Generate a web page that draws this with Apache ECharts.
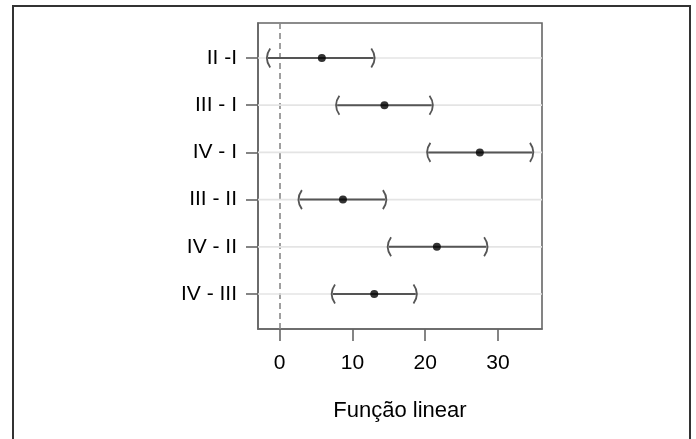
<!DOCTYPE html>
<html>
<head>
<meta charset="utf-8">
<script src="https://cdn.jsdelivr.net/npm/echarts@6/dist/echarts.min.js"></script>
<style>
  html, body { margin: 0; padding: 0; background: #fff; }
  #chart { width: 696px; height: 439px; }
</style>
</head>
<body>
<div id="chart"></div>
<script>
// comparisons, top to bottom
const comparisons = ['II -I', 'III - I', 'IV - I', 'III - II', 'IV - II', 'IV - III'];
const estimates = [5.8, 14.4, 27.5, 8.7, 21.6, 13.0];
const lowerCI = [-1.6, 7.9, 20.4, 2.75, 15.0, 7.3];
const upperCI = [12.9, 20.9, 34.7, 14.5, 28.4, 18.7];
const xTicks = [0, 10, 20, 30];
const rowPos = comparisons.map((c, i) => i + 1);

const font = "'Liberation Sans', Arial, sans-serif";
const myChart = echarts.init(document.getElementById('chart'));

const intervalData = rowPos.map((y, i) => [y, lowerCI[i], upperCI[i]]);
const pointData = rowPos.map((y, i) => [estimates[i], y]);

const renderInterval = (params, api) => {
  const y = api.value(0);
  const lo = api.coord([api.value(1), y]);
  const hi = api.coord([api.value(2), y]);
  const cs = params.coordSys;
  const h = 9.5;
  const w = 4.5;
  return {
    type: 'group',
    children: [
      {
        type: 'line',
        shape: { x1: cs.x, y1: lo[1], x2: cs.x + cs.width, y2: lo[1] },
        style: { stroke: '#e4e4e4', lineWidth: 1.6 }
      },
      {
        type: 'line',
        shape: { x1: lo[0], y1: lo[1], x2: hi[0], y2: hi[1] },
        style: { stroke: '#555', lineWidth: 2 }
      },
      {
        type: 'bezierCurve',
        shape: { x1: lo[0] + w / 2, y1: lo[1] - h, cpx1: lo[0] - w, cpy1: lo[1], x2: lo[0] + w / 2, y2: lo[1] + h },
        style: { stroke: '#555', lineWidth: 1.8, fill: 'none' }
      },
      {
        type: 'bezierCurve',
        shape: { x1: hi[0] - w / 2, y1: hi[1] - h, cpx1: hi[0] + w, cpy1: hi[1], x2: hi[0] - w / 2, y2: hi[1] + h },
        style: { stroke: '#555', lineWidth: 1.8, fill: 'none' }
      }
    ]
  };
};

option = {
  backgroundColor: '#fff',
  animation: false,
  textStyle: { fontFamily: font },
  graphic: [
    {
      type: 'rect',
      shape: { x: 13, y: 6, width: 677, height: 470 },
      style: { fill: 'none', stroke: '#333', lineWidth: 2 },
      silent: true
    }
  ],
  grid: {
    left: 258,
    right: 154,
    top: 23,
    bottom: 110,
    show: true,
    borderColor: '#666',
    borderWidth: 1.6,
    backgroundColor: 'transparent'
  },
  xAxis: {
    type: 'value',
    min: -2.97,
    max: 36.04,
    name: 'Função linear',
    nameLocation: 'middle',
    nameGap: 71,
    nameTextStyle: { fontSize: 22, color: '#000', fontFamily: font },
    axisLine: { show: true, onZero: false, lineStyle: { color: '#666', width: 1.6 } },
    splitLine: { show: false },
    axisTick: {
      show: true,
      inside: false,
      length: 12,
      customValues: xTicks,
      lineStyle: { color: '#666', width: 1.6 }
    },
    axisLabel: {
      customValues: xTicks,
      margin: 24,
      fontSize: 21,
      color: '#000',
      fontFamily: font
    }
  },
  yAxis: {
    type: 'value',
    min: 0.26,
    max: 6.74,
    inverse: true,
    axisLine: { show: true, onZero: false, lineStyle: { color: '#666', width: 1.6 } },
    splitLine: { show: false },
    axisTick: {
      show: true,
      inside: false,
      length: 12,
      customValues: rowPos,
      lineStyle: { color: '#666', width: 1.6 }
    },
    axisLabel: {
      customValues: rowPos,
      margin: 21,
      fontSize: 21,
      color: '#000',
      fontFamily: font,
      formatter: (v) => comparisons[Math.round(v) - 1]
    }
  },
  series: [
    {
      type: 'custom',
      renderItem: renderInterval,
      data: intervalData,
      encode: { x: [1, 2], y: 0 },
      clip: false,
      z: 2,
      markLine: {
        silent: true,
        symbol: 'none',
        label: { show: false },
        lineStyle: { color: '#888', type: [6, 4], width: 1.6 },
        data: [{ xAxis: 0 }],
        z: 1
      }
    },
    {
      type: 'scatter',
      data: pointData,
      symbol: 'circle',
      symbolSize: 8,
      itemStyle: { color: '#000' },
      z: 3
    }
  ]
};

myChart.setOption(option);
</script>
</body>
</html>
